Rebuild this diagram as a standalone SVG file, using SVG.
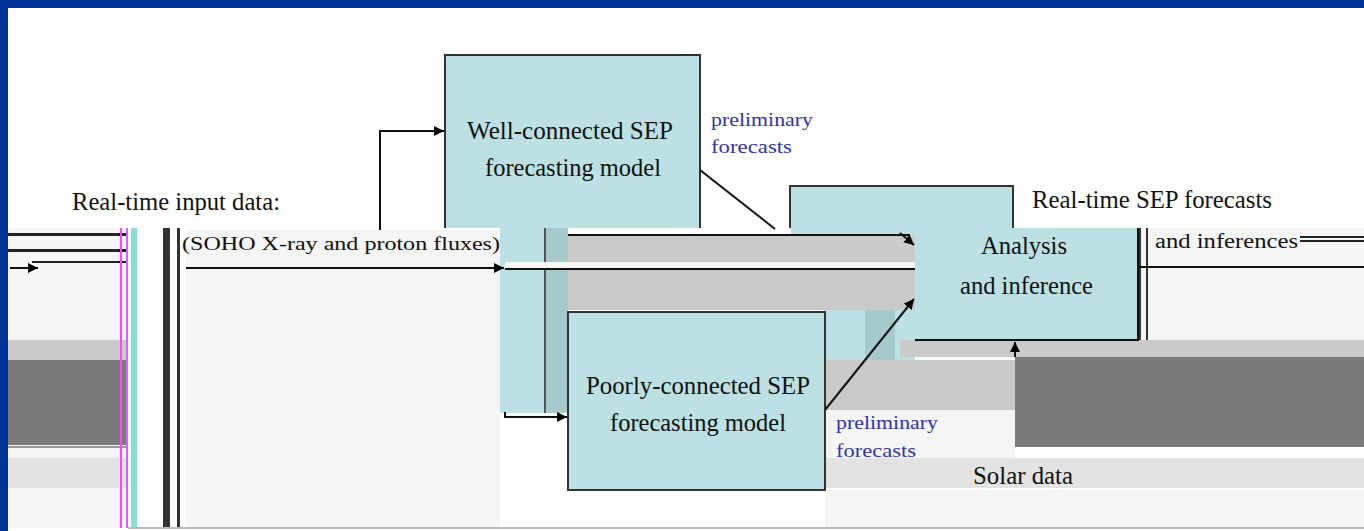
<svg xmlns="http://www.w3.org/2000/svg" width="1364" height="531" viewBox="0 0 1364 531">
<defs>
<marker id="ah" viewBox="0 0 10 10" refX="10" refY="5" markerWidth="10" markerHeight="10" markerUnits="userSpaceOnUse" orient="auto"><path d="M0,0 L10,5 L0,10 z" fill="#000"/></marker>
<style>
.box{fill:#bce0e3;stroke:#333;stroke-width:2}
.t{font-family:"Liberation Serif","Times New Roman",serif;fill:#111}
.b{font-size:25px}
.p{font-family:"Liberation Serif","Times New Roman",serif;font-size:19px;fill:#3333aa}
.ln{stroke:#111;stroke-width:2;fill:none}
.lt{fill:#f5f5f5}
.mg{fill:#cacaca}
.dg{fill:#7a7a7a}
</style>
</defs>
<rect x="0" y="0" width="1364" height="531" fill="#003399"/>
<rect x="8" y="8" width="1356" height="523" fill="#fff"/>
<g id="glitch-left">
<rect x="8" y="228" width="120" height="300" class="lt"/>
<rect x="8" y="233" width="120" height="3" fill="#222"/>
<rect x="8" y="249" width="120" height="3" fill="#222"/>
<rect x="32" y="261" width="96" height="2" fill="#222"/>
<rect x="8" y="340" width="120" height="20" class="mg"/>
<rect x="8" y="360" width="120" height="85" class="dg"/>
<rect x="8" y="446" width="120" height="2" fill="#999"/>
<rect x="8" y="458" width="120" height="30" fill="#e3e3e3"/>
<rect x="120" y="228" width="2" height="300" fill="#ff44ff"/>
<rect x="126" y="228" width="2" height="300" fill="#cc66ff"/>
<rect x="131" y="228" width="6" height="300" fill="#88dddd"/>
<rect x="137" y="228" width="26" height="300" fill="#fff"/>
<rect x="163" y="228" width="7" height="300" fill="#333"/>
<rect x="177" y="228" width="3" height="300" fill="#333"/>
<rect x="186" y="230" width="314" height="298" class="lt"/>
<rect x="128" y="527" width="1236" height="2" fill="#bbb"/>
</g>
<g id="glitch-mid">
<rect x="500" y="228" width="68" height="185" fill="#bce0e3"/>
<rect x="545" y="228" width="23" height="185" fill="#a6c9cb"/>
<rect x="544" y="228" width="2" height="185" fill="#555"/>
<rect x="568" y="235" width="347" height="75" class="mg"/>
<rect x="505" y="262" width="410" height="6" fill="#f7f7f7"/>
<rect x="825" y="310" width="90" height="50" fill="#bce0e3"/>
<rect x="865" y="310" width="30" height="50" fill="#a6c9cb"/>
<rect x="825" y="360" width="190" height="50" class="mg"/>
<rect x="825" y="410" width="190" height="48" class="lt"/>
<rect x="900" y="340" width="464" height="17" class="mg"/>
<rect x="1015" y="357" width="349" height="90" class="dg"/>
<rect x="825" y="458" width="539" height="30" fill="#e3e3e3"/>
<rect x="825" y="490" width="539" height="37" class="lt"/>
<rect x="1138" y="228" width="226" height="112" class="lt"/>
<rect x="1139" y="228" width="2" height="112" fill="#333"/>
<rect x="1146" y="228" width="2" height="112" fill="#333"/>
<rect x="1300" y="236" width="64" height="2" fill="#222"/>
<rect x="1300" y="240" width="64" height="2" fill="#222"/>
</g>
<g id="well-connected">
<path d="M445,228 V55 H700 V228" class="box"/>
<rect x="446" y="56" width="253" height="172" fill="#bce0e3"/>
<text class="t b" x="467" y="139" textLength="206" lengthAdjust="spacingAndGlyphs">Well-connected SEP</text>
<text class="t b" x="485" y="176" textLength="176" lengthAdjust="spacingAndGlyphs">forecasting model</text>
<text class="p" x="711" y="126" textLength="102" lengthAdjust="spacingAndGlyphs">preliminary</text>
<text class="p" x="711" y="153" textLength="81" lengthAdjust="spacingAndGlyphs">forecasts</text>
</g>
<g id="analysis-back">
<path d="M790,228 V186 H1013 V228" class="box"/>
<rect x="791" y="187" width="221" height="48" fill="#bce0e3"/>
</g>
<g id="input-data">
<text class="t b" x="72" y="210" textLength="208" lengthAdjust="spacingAndGlyphs">Real-time input data:</text>
<text class="t" x="182" y="250" font-size="19" textLength="318" lengthAdjust="spacingAndGlyphs">(SOHO X-ray and proton fluxes)</text>
</g>
<g id="poorly-connected">
<rect x="568" y="312" width="257" height="178" class="box"/>
<text class="t b" x="586" y="394" textLength="224" lengthAdjust="spacingAndGlyphs">Poorly-connected SEP</text>
<text class="t b" x="610" y="431" textLength="176" lengthAdjust="spacingAndGlyphs">forecasting model</text>
<text class="p" x="836" y="429" textLength="102" lengthAdjust="spacingAndGlyphs">preliminary</text>
<text class="p" x="836" y="457" textLength="80" lengthAdjust="spacingAndGlyphs">forecasts</text>
</g>
<g id="analysis">
<rect x="915" y="228" width="223" height="112" fill="#bce0e3"/>
<path d="M915,340 H1138 V228" class="ln"/>
<text class="t b" x="981" y="254" textLength="86" lengthAdjust="spacingAndGlyphs">Analysis</text>
<text class="t b" x="960" y="294" textLength="133" lengthAdjust="spacingAndGlyphs">and inference</text>
</g>
<g id="sep-forecasts">
<text class="t b" x="1032" y="208" textLength="240" lengthAdjust="spacingAndGlyphs">Real-time SEP forecasts</text>
<text class="t" x="1155" y="248" font-size="20" textLength="143" lengthAdjust="spacingAndGlyphs">and inferences</text>
</g>
<g id="solar-data">
<text class="t b" x="973" y="484" textLength="100" lengthAdjust="spacingAndGlyphs">Solar data</text>
</g>
<g id="connectors">
<path d="M380,230 V131 H444" class="ln" marker-end="url(#ah)"/>
<path d="M10,268 H38" class="ln" marker-end="url(#ah)"/>
<path d="M186,268 H504" class="ln" marker-end="url(#ah)"/>
<path d="M505,269 H915" class="ln"/>
<path d="M568,235 H910" class="ln"/>
<path d="M505,412 V417 H567" class="ln" marker-end="url(#ah)"/>
<path d="M700,170 L775,229" class="ln"/>
<path d="M900,233 L914,245" class="ln" marker-end="url(#ah)"/>
<path d="M825,410 L914,299" class="ln" marker-end="url(#ah)"/>
<path d="M1015,357 V342" class="ln" marker-end="url(#ah)"/>
<path d="M1138,267 H1364" class="ln"/>
</g>
</svg>
